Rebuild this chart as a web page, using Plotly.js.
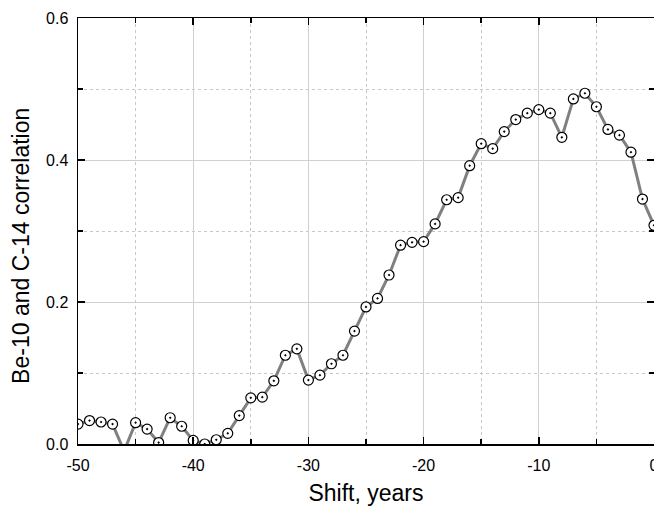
<!DOCTYPE html>
<html>
<head>
<meta charset="utf-8">
<script src="https://cdn.plot.ly/plotly-3.0.1.min.js"></script>
<style>html,body{margin:0;padding:0;background:#fff;}#chart{width:654px;height:510px;}</style>
</head>
<body>
<div id="chart"></div>
<script>
const shiftYears = [-50,-49,-48,-47,-46,-45,-44,-43,-42,-41,-40,-39,-38,-37,-36,-35,-34,-33,-32,-31,-30,-29,-28,-27,-26,-25,-24,-23,-22,-21,-20,-19,-18,-17,-16,-15,-14,-13,-12,-11,-10,-9,-8,-7,-6,-5,-4,-3,-2,-1,0];
const correlation = [0.028,0.033,0.031,0.028,-0.01,0.030,0.021,0.002,0.037,0.025,0.005,0.0,0.006,0.015,0.040,0.065,0.066,0.089,0.125,0.134,0.090,0.097,0.113,0.125,0.159,0.193,0.205,0.238,0.280,0.284,0.285,0.310,0.344,0.347,0.392,0.423,0.416,0.440,0.457,0.466,0.471,0.466,0.432,0.486,0.494,0.475,0.443,0.435,0.411,0.345,0.308];
const xTickVals = [-50,-40,-30,-20,-10,0];
const yTickVals = [0,0.2,0.4,0.6];
const xTitle = 'Shift, years';
const yTitle = 'Be-10 and C-14 correlation';

const trace = {
  x: shiftYears, y: correlation, type: 'scatter', mode: 'lines+markers',
  line: {color: '#808080', width: 3},
  marker: {symbol: 'circle-dot', size: 10, color: '#ffffff', line: {color: '#000000', width: 1.2}},
  hoverinfo: 'skip'
};
const fontFam = '"Liberation Sans", Arial, sans-serif';
const layout = {
  width: 654, height: 510,
  margin: {l: 78, r: 0, t: 18, b: 66},
  paper_bgcolor: '#ffffff', plot_bgcolor: '#ffffff',
  showlegend: false,
  font: {family: fontFam, color: '#000000', size: 16},
  xaxis: {
    range: [-50, 0], tickvals: xTickVals, ticktext: xTickVals.map(String),
    showline: true, linecolor: '#000000', linewidth: 1.5, mirror: 'ticks',
    ticks: 'inside', ticklen: 7, tickcolor: '#000000', tickwidth: 1.5,
    showgrid: true, gridcolor: '#d0d0d0', gridwidth: 1, zeroline: false,
    tickfont: {size: 16, family: fontFam}, ticklabelstandoff: 6, ticklabeloverflow: 'allow',
    minor: {dtick: 5, tick0: -50, ticks: 'inside', ticklen: 5, tickcolor: '#000000', showgrid: true, gridcolor: '#c8c8c8', griddash: 'dot', gridwidth: 1},
    title: {text: xTitle, font: {size: 23, family: fontFam}, standoff: 12}
  },
  yaxis: {
    range: [0, 0.6], tickvals: yTickVals, tickformat: '.1f',
    showline: true, linecolor: '#000000', linewidth: 1.5, mirror: 'ticks',
    ticks: 'inside', ticklen: 7, tickcolor: '#000000', tickwidth: 1.5,
    showgrid: true, gridcolor: '#d0d0d0', gridwidth: 1, zeroline: false,
    tickfont: {size: 16, family: fontFam}, ticklabelstandoff: 5, ticklabeloverflow: 'allow'
  },
  annotations: [{
    text: yTitle, xref: 'paper', yref: 'paper', x: -0.099, y: 0.465,
    xanchor: 'center', yanchor: 'middle', textangle: -90, showarrow: false,
    font: {size: 23, family: fontFam, color: '#000000'}
  }]
};
layout.yaxis.minor = {dtick: 0.1, tick0: 0, ticks: 'inside', ticklen: 5, tickcolor: '#000000', showgrid: true, gridcolor: '#c8c8c8', griddash: 'dot', gridwidth: 1};
Plotly.newPlot('chart', [trace], layout, {displayModeBar: false, staticPlot: true});
</script>
</body>
</html>
